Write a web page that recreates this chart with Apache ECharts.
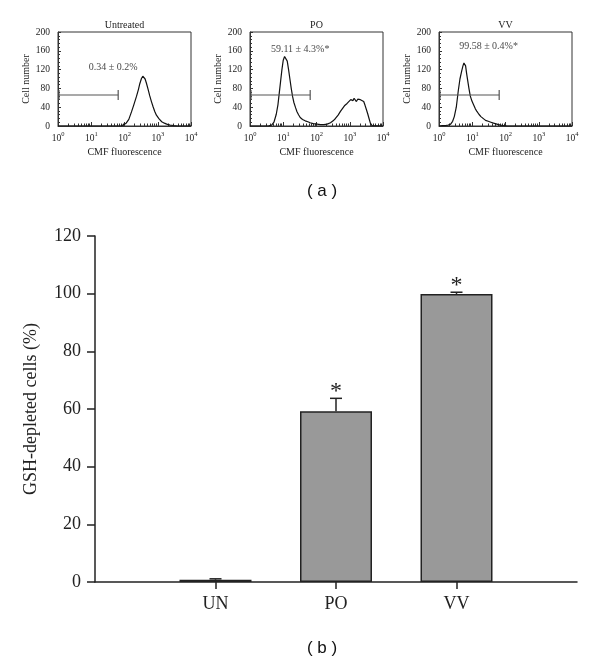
<!DOCTYPE html>
<html><head><meta charset="utf-8">
<script src="https://cdn.jsdelivr.net/npm/echarts@6/dist/echarts.min.js"></script>
<style>html,body{margin:0;padding:0;background:#fff}#c{width:600px;height:664px}</style>
</head><body><div id="c"></div>
<script>
// ---------- data ----------
const panelTitles = ['Untreated', 'PO', 'VV'];
const panelStats = ['0.34 \u00b1 0.2%', '59.11 \u00b1 4.3%*', '99.58 \u00b1 0.4%*'];
// histogram points: [log10(CMF fluorescence), cell number]
const histUntreated = [[0,0],[1.9,0],[1.96,2],[2.05,6],[2.13,14],[2.21,30],[2.28,45],[2.36,63],[2.42,78],[2.46,90],[2.51,101],[2.55,106],[2.58,104],[2.62,100],[2.66,91],[2.71,78],[2.76,64],[2.81,52],[2.86,41],[2.91,31],[2.96,23],[3.04,15],[3.12,9],[3.2,6],[3.27,4],[3.37,2],[3.47,1],[3.6,0],[4,0]];
const histPO = [[0,0],[0.55,0],[0.65,2],[0.72,8],[0.79,25],[0.84,45],[0.88,70],[0.92,95],[0.96,120],[1.0,140],[1.04,148],[1.08,147],[1.12,138],[1.16,120],[1.2,100],[1.24,80],[1.28,63],[1.32,50],[1.37,39],[1.41,31],[1.46,24],[1.51,18],[1.58,14],[1.66,11],[1.74,9],[1.81,7],[1.9,5],[2.02,4],[2.12,3],[2.22,3],[2.32,4],[2.42,7],[2.5,11],[2.57,16],[2.65,23],[2.72,31],[2.78,37],[2.84,43],[2.92,48],[2.98,52],[3.03,56],[3.07,58],[3.1,54],[3.13,59],[3.17,55],[3.2,52],[3.24,57],[3.28,60],[3.32,56],[3.37,58],[3.42,52],[3.46,44],[3.5,35],[3.54,26],[3.58,16],[3.62,6],[3.67,1],[3.72,0],[4,0]];
const histVV = [[0,0],[0.1,1],[0.2,1],[0.28,2],[0.35,4],[0.41,10],[0.46,20],[0.52,40],[0.58,75],[0.63,100],[0.68,116],[0.72,128],[0.75,134],[0.78,132],[0.8,128],[0.83,112],[0.86,98],[0.9,80],[0.94,64],[0.99,53],[1.04,45],[1.09,37],[1.14,31],[1.2,25],[1.26,20],[1.32,16],[1.4,12],[1.48,10],[1.56,8],[1.64,6],[1.74,4],[1.84,2],[1.94,1],[2.05,0],[4,0]];
const gateStart = 0.03, gateEnd = 1.81, gateLevel = 66;
const statPosX = [1.66, 1.51, 1.49];
const statPosY = [125, 162, 169];
const decades = [0, 1, 2, 3, 4];
const cellTicks = [0, 40, 80, 120, 160, 200];

const barCategories = ['UN', 'PO', 'VV'];
const barValues = [0.8, 59.2, 99.9];
const barErrors = [0.3, 4.5, 0.6];
const barMarks = ['', '*', '*'];
const pctTicks = [0, 20, 40, 60, 80, 100, 120];

// ---------- layout ----------
const hists = [histUntreated, histPO, histVV];
const panelLeft = [58, 250, 439];
const SERIF = '"Liberation Serif","DejaVu Serif",serif';
const SANS = '"Liberation Sans","DejaVu Sans",sans-serif';
const ink = '#222';

const grids = [], xAxes = [], yAxes = [], series = [], graphics = [];
const minorVals = [];
for (let d = 0; d < 4; d++) for (let k = 2; k <= 9; k++) minorVals.push(d + Math.log10(k));

panelLeft.forEach((l, i) => {
  grids.push({left: l, top: 32, width: 133, height: 94, show: true, borderColor: '#333', borderWidth: 1});
});
grids.push({left: 95, top: 236, width: 482, height: 346});

// major log axes
for (let i = 0; i < 3; i++) {
  xAxes.push({
    type: 'value', gridIndex: i, min: decades[0], max: decades[decades.length - 1], interval: 1,
    axisLine: {lineStyle: {color: '#333', width: 1}},
    axisTick: {inside: true, length: 4, lineStyle: {color: '#333'}},
    splitLine: {show: false},
    axisLabel: {margin: 5, color: ink, fontFamily: SERIF,
      formatter: v => '{b|10}{s|' + v + '}',
      rich: {b: {fontSize: 9.5, fontFamily: SERIF, color: ink, lineHeight: 12, verticalAlign: 'bottom'},
             s: {fontSize: 6.5, fontFamily: SERIF, color: ink, lineHeight: 12, verticalAlign: 'top'}}},
    name: 'CMF fluorescence', nameLocation: 'middle', nameGap: 21,
    nameTextStyle: {fontFamily: SERIF, fontSize: 10, color: ink}
  });
}
// minor log tick axes
for (let i = 0; i < 3; i++) {
  xAxes.push({
    type: 'value', gridIndex: i, min: 0, max: 4, position: 'bottom',
    axisLine: {show: false}, splitLine: {show: false},
    axisLabel: {show: false},
    axisTick: {show: true, inside: true, length: 2.5, customValues: minorVals, lineStyle: {color: '#333'}}
  });
}
// bar x axis
const barAxisData = [''].concat(barCategories, ['']);
xAxes.push({
  type: 'category', gridIndex: 3, data: barAxisData, boundaryGap: false,
  axisLine: {lineStyle: {color: ink, width: 1.5}},
  axisTick: {length: 7, interval: (idx) => idx >= 1 && idx <= barCategories.length, lineStyle: {color: ink, width: 1.5}},
  axisLabel: {interval: 0, margin: 13, fontFamily: SERIF, fontSize: 18, color: ink},
  splitLine: {show: false}
});

for (let i = 0; i < 3; i++) {
  yAxes.push({
    type: 'value', gridIndex: i, min: cellTicks[0], max: cellTicks[cellTicks.length - 1], interval: 40,
    axisLine: {show: true, lineStyle: {color: '#333', width: 1}},
    axisTick: {show: true, inside: true, length: 3, lineStyle: {color: '#333'}},
    minorTick: {show: true, splitNumber: 5, length: 2},
    splitLine: {show: false},
    axisLabel: {margin: 8, fontFamily: SERIF, fontSize: 9.5, color: ink},
    name: 'Cell number', nameLocation: 'middle', nameGap: 26,
    nameTextStyle: {fontFamily: SERIF, fontSize: 10, color: ink}
  });
}
yAxes.push({
  type: 'value', gridIndex: 3, min: pctTicks[0], max: pctTicks[pctTicks.length - 1], interval: 20,
  axisLine: {show: true, lineStyle: {color: ink, width: 1.5}},
  axisTick: {show: true, length: 8, lineStyle: {color: ink, width: 1.5}},
  splitLine: {show: false},
  axisLabel: {margin: 14, fontFamily: SERIF, fontSize: 18, color: ink},
  name: 'GSH-depleted cells (%)', nameLocation: 'middle', nameGap: 55,
  nameTextStyle: {fontFamily: SERIF, fontSize: 18, color: ink}
});

for (let i = 0; i < 3; i++) {
  series.push({
    type: 'line', xAxisIndex: i, yAxisIndex: i, data: hists[i], showSymbol: false, symbol: 'none',
    lineStyle: {color: '#111', width: 1.2}, animation: false, z: 3
  });
  series.push({
    type: 'custom', xAxisIndex: i, yAxisIndex: i,
    data: [[gateStart, gateEnd, gateLevel]],
    encode: {x: [0, 1], y: 2},
    renderItem: (params, api) => {
      const a = api.coord([api.value(0), api.value(2)]);
      const b = api.coord([api.value(1), api.value(2)]);
      const h = 5, st = {stroke: '#555', lineWidth: 1.2};
      return {type: 'group', children: [
        {type: 'line', shape: {x1: a[0], y1: a[1], x2: b[0], y2: b[1]}, style: st},
        {type: 'line', shape: {x1: a[0], y1: a[1] - h, x2: a[0], y2: a[1] + h}, style: st},
        {type: 'line', shape: {x1: b[0], y1: b[1] - h, x2: b[0], y2: b[1] + h}, style: st}
      ]};
    }, animation: false, z: 4
  });
  series.push({
    type: 'scatter', xAxisIndex: i, yAxisIndex: i, symbolSize: 0,
    data: [[statPosX[i], statPosY[i]]],
    label: {show: true, position: 'inside', formatter: panelStats[i], fontFamily: SERIF, fontSize: 10, color: '#111'},
    silent: true, animation: false
  });
}

series.push({
  type: 'bar', xAxisIndex: 6, yAxisIndex: 3, barWidth: 72,
  data: ['-'].concat(barValues, ['-']),
  itemStyle: {color: '#999999', borderColor: '#222', borderWidth: 1.5},
  animation: false
});
series.push({
  type: 'custom', xAxisIndex: 6, yAxisIndex: 3,
  data: barValues.map((v, i) => [i + 1, v, barErrors[i], i]),
  encode: {x: 0, y: 1},
  renderItem: (params, api) => {
    const x = api.value(0), v = api.value(1), e = api.value(2), idx = api.value(3);
    const base = api.coord([x, v]);
    const top = api.coord([x, v + e]);
    const st = {stroke: '#222', lineWidth: 1.5};
    const ch = [
      {type: 'line', shape: {x1: base[0], y1: base[1], x2: top[0], y2: top[1]}, style: st},
      {type: 'line', shape: {x1: top[0] - 6, y1: top[1], x2: top[0] + 6, y2: top[1]}, style: st}
    ];
    if (barMarks[idx]) ch.push({type: 'text', x: top[0], y: top[1] + 5,
      style: {text: barMarks[idx], font: '24px ' + SERIF, fill: '#222', textAlign: 'center', textVerticalAlign: 'bottom'}});
    return {type: 'group', children: ch};
  }, animation: false, z: 5
});

panelTitles.forEach((t, i) => {
  graphics.push({type: 'text', x: panelLeft[i] + 66.5, y: 25,
    style: {text: t, font: '10px ' + SERIF, fill: ink, textAlign: 'center', textVerticalAlign: 'middle'}});
});
graphics.push({type: 'text', x: 322, y: 191, style: {text: '( a )', font: '17px ' + SANS, fill: '#111', textAlign: 'center', textVerticalAlign: 'middle'}});
graphics.push({type: 'text', x: 322, y: 648, style: {text: '( b )', font: '17px ' + SANS, fill: '#111', textAlign: 'center', textVerticalAlign: 'middle'}});

const chart = echarts.init(document.getElementById('c'), null, {renderer: 'canvas'});
chart.setOption({
  backgroundColor: '#fff', animation: false,
  grid: grids, xAxis: xAxes, yAxis: yAxes, series: series, graphic: graphics
});
</script></body></html>
